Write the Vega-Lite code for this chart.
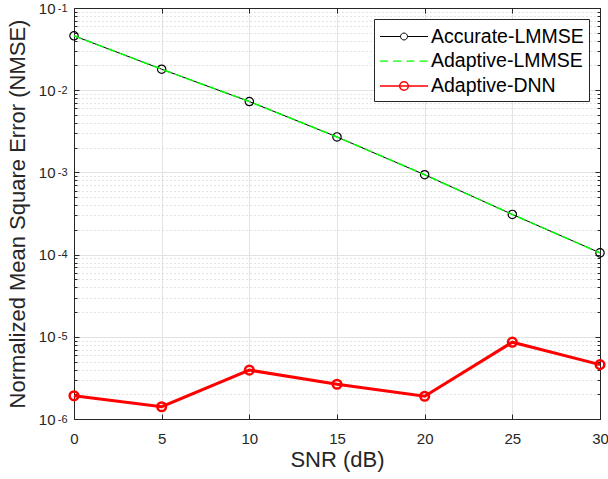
{
  "$schema": "https://vega.github.io/schema/vega-lite/v6.json",
  "autosize": "none",
  "width": 526,
  "height": 411,
  "padding": {"left": 74, "top": 8, "right": 8, "bottom": 60},
  "background": "white",
  "config": {
    "font": "Liberation Sans",
    "view": {"stroke": null},
    "axis": {
      "labelFont": "Liberation Sans",
      "titleFont": "Liberation Sans",
      "labelColor": "#262626",
      "titleColor": "#262626",
      "domainColor": "#262626",
      "tickColor": "#262626",
      "titleFontWeight": "normal",
      "labelFontSize": 15,
      "titleFontSize": 22
    }
  },
  "data": {
    "values": [
      {"snr": 0, "nmse": 0.0459, "series": "Accurate-LMMSE"},
      {"snr": 5, "nmse": 0.018, "series": "Accurate-LMMSE"},
      {"snr": 10, "nmse": 0.00728, "series": "Accurate-LMMSE"},
      {"snr": 15, "nmse": 0.0027, "series": "Accurate-LMMSE"},
      {"snr": 20, "nmse": 0.000937, "series": "Accurate-LMMSE"},
      {"snr": 25, "nmse": 0.000308, "series": "Accurate-LMMSE"},
      {"snr": 30, "nmse": 0.000105, "series": "Accurate-LMMSE"},
      {"snr": 0, "nmse": 0.0459, "series": "Adaptive-LMMSE"},
      {"snr": 5, "nmse": 0.018, "series": "Adaptive-LMMSE"},
      {"snr": 10, "nmse": 0.00728, "series": "Adaptive-LMMSE"},
      {"snr": 15, "nmse": 0.0027, "series": "Adaptive-LMMSE"},
      {"snr": 20, "nmse": 0.000937, "series": "Adaptive-LMMSE"},
      {"snr": 25, "nmse": 0.000308, "series": "Adaptive-LMMSE"},
      {"snr": 30, "nmse": 0.000105, "series": "Adaptive-LMMSE"},
      {"snr": 0, "nmse": 1.92e-6, "series": "Adaptive-DNN"},
      {"snr": 5, "nmse": 1.41e-6, "series": "Adaptive-DNN"},
      {"snr": 10, "nmse": 3.93e-6, "series": "Adaptive-DNN"},
      {"snr": 15, "nmse": 2.65e-6, "series": "Adaptive-DNN"},
      {"snr": 20, "nmse": 1.89e-6, "series": "Adaptive-DNN"},
      {"snr": 25, "nmse": 8.6e-6, "series": "Adaptive-DNN"},
      {"snr": 30, "nmse": 4.59e-6, "series": "Adaptive-DNN"}
    ]
  },
  "resolve": {"axis": {"x": "independent", "y": "independent"}},
  "layer": [
    {
      "transform": [{"filter": "datum.series == 'Adaptive-DNN'"}],
      "mark": {"type": "line", "color": "#ff0000", "strokeWidth": 3},
      "encoding": {
        "x": {"field": "snr", "type": "quantitative", "scale": {"domain": [0, 30], "nice": false, "zero": false},
          "axis": {"orient": "bottom", "values": [0, 5, 10, 15, 20, 25, 30], "title": "SNR (dB)", "grid": true, "gridColor": "#e3e3e3", "tickSize": -5, "labelPadding": 17, "titlePadding": 3, "labelFlush": false}},
        "y": {"field": "nmse", "type": "quantitative", "scale": {"type": "log", "domain": [1e-6, 0.1], "nice": false},
          "axis": {"orient": "left", "values": [1e-6, 1e-5, 1e-4, 1e-3, 1e-2, 1e-1], "title": "Normalized Mean Square Error (NMSE)", "grid": true, "gridColor": "#e3e3e3", "tickSize": -5, "labelPadding": 24, "labelDy": 4, "titlePadding": 9, "labelFlush": false,
            "labelExpr": "'10'"}}
      }
    },
    {
      "transform": [{"filter": "datum.series == 'Adaptive-DNN'"}],
      "mark": {"type": "point", "shape": "circle", "filled": false, "color": "#ff0000", "strokeWidth": 2.5, "size": 75, "opacity": 1},
      "encoding": {
        "x": {"field": "snr", "type": "quantitative", "axis": {"orient": "top", "values": [0, 5, 10, 15, 20, 25, 30], "labels": false, "title": null, "grid": false, "tickSize": -5, "domain": true}},
        "y": {"field": "nmse", "type": "quantitative", "scale": {"type": "log"},
          "axis": {"orient": "left", "values": [2e-6, 3e-6, 4e-6, 5e-6, 6e-6, 7e-6, 8e-6, 9e-6, 2e-5, 3e-5, 4e-5, 5e-5, 6e-5, 7e-5, 8e-5, 9e-5, 2e-4, 3e-4, 4e-4, 5e-4, 6e-4, 7e-4, 8e-4, 9e-4, 2e-3, 3e-3, 4e-3, 5e-3, 6e-3, 7e-3, 8e-3, 9e-3, 2e-2, 3e-2, 4e-2, 5e-2, 6e-2, 7e-2, 8e-2, 9e-2], "labels": false, "title": null, "grid": true, "gridColor": "#c8c8c8", "gridDash": [1, 3], "tickSize": -3, "domain": false}}
      }
    },
    {
      "transform": [{"filter": "datum.series == 'Accurate-LMMSE'"}],
      "mark": {"type": "line", "color": "#000000", "strokeWidth": 1},
      "encoding": {
        "x": {"field": "snr", "type": "quantitative", "axis": null},
        "y": {"field": "nmse", "type": "quantitative", "scale": {"type": "log"},
          "axis": {"orient": "right", "values": [1e-6, 1e-5, 1e-4, 1e-3, 1e-2, 1e-1], "labels": false, "title": null, "grid": false, "tickSize": -5, "domain": true}}
      }
    },
    {
      "transform": [{"filter": "datum.series == 'Accurate-LMMSE'"}],
      "mark": {"type": "point", "shape": "circle", "filled": false, "color": "#000000", "strokeWidth": 1.2, "size": 70, "opacity": 1},
      "encoding": {
        "x": {"field": "snr", "type": "quantitative", "axis": null},
        "y": {"field": "nmse", "type": "quantitative", "scale": {"type": "log"},
          "axis": {"orient": "right", "values": [2e-6, 3e-6, 4e-6, 5e-6, 6e-6, 7e-6, 8e-6, 9e-6, 2e-5, 3e-5, 4e-5, 5e-5, 6e-5, 7e-5, 8e-5, 9e-5, 2e-4, 3e-4, 4e-4, 5e-4, 6e-4, 7e-4, 8e-4, 9e-4, 2e-3, 3e-3, 4e-3, 5e-3, 6e-3, 7e-3, 8e-3, 9e-3, 2e-2, 3e-2, 4e-2, 5e-2, 6e-2, 7e-2, 8e-2, 9e-2], "labels": false, "title": null, "grid": false, "tickSize": -3, "domain": false}}
      }
    },
    {
      "transform": [{"filter": "datum.series == 'Adaptive-LMMSE'"}],
      "mark": {"type": "line", "color": "#00ff00", "strokeWidth": 1.5, "strokeDash": [8, 4]},
      "encoding": {
        "x": {"field": "snr", "type": "quantitative", "axis": null},
        "y": {"field": "nmse", "type": "quantitative", "scale": {"type": "log"},
          "axis": {"orient": "left", "values": [1e-6, 1e-5, 1e-4, 1e-3, 1e-2, 1e-1], "title": null, "grid": false, "ticks": false, "tickSize": 0, "domain": false, "labelPadding": 7, "labelDy": -1, "labelFontSize": 11, "labelFlush": false,
            "labelExpr": "datum.value < 3e-6 ? '-6' : datum.value < 3e-5 ? '-5' : datum.value < 3e-4 ? '-4' : datum.value < 3e-3 ? '-3' : datum.value < 3e-2 ? '-2' : '-1'"}}
      }
    },
    {
      "transform": [{"filter": "datum.snr < -100"}],
      "mark": {"type": "point", "filled": false, "opacity": 1},
      "encoding": {
        "x": {"field": "snr", "type": "quantitative", "axis": null},
        "y": {"field": "nmse", "type": "quantitative", "scale": {"type": "log"}, "axis": null},
        "color": {"field": "series", "type": "nominal",
          "scale": {"domain": ["Accurate-LMMSE", "Adaptive-LMMSE", "Adaptive-DNN"], "range": ["#000000", "#00ff00", "#ff0000"]},
          "legend": {"title": null, "orient": "top-right", "offset": 11, "strokeColor": "#262626", "fillColor": "white", "padding": 5, "labelFont": "Liberation Sans", "labelFontSize": 19.5, "labelColor": "#000000", "symbolSize": 576, "rowPadding": 2, "labelOffset": 26, "symbolOpacity": 1}},
        "shape": {"field": "series", "type": "nominal",
          "scale": {"domain": ["Accurate-LMMSE", "Adaptive-LMMSE", "Adaptive-DNN"], "range": [
            "M-1,0H0.71M1.29,0H3M1.29,0A0.29,0.29 0 1,1 0.71,0A0.29,0.29 0 1,1 1.29,0",
            "M-1,0H-0.33M0.1,0H0.77M1.2,0H1.87M2.3,0H2.97",
            "M-1,0H3M1.36,0A0.36,0.36 0 1,1 0.64,0A0.36,0.36 0 1,1 1.36,0"
          ]}},
        "strokeWidth": {"field": "series", "type": "nominal",
          "scale": {"domain": ["Accurate-LMMSE", "Adaptive-LMMSE", "Adaptive-DNN"], "range": [1, 1.5, 3]}}
      }
    }
  ]
}
